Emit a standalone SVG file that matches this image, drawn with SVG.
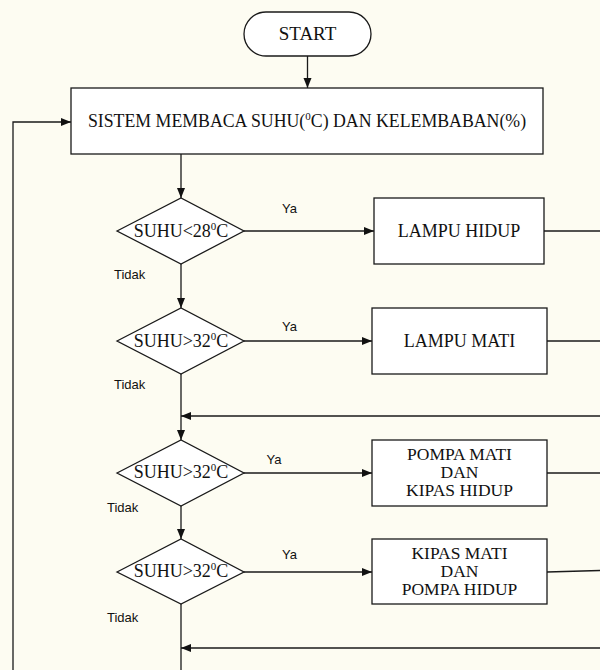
<svg xmlns="http://www.w3.org/2000/svg" width="600" height="670" viewBox="0 0 600 670">
<style>
.shape{fill:#ffffff;stroke:#1a1a1a;stroke-width:1.3}
.conn{fill:none;stroke:#1a1a1a;stroke-width:1.3}
.t{font-family:"Liberation Serif","Times New Roman",serif;font-size:18px;fill:#111;text-anchor:middle}
.tm{font-size:17.8px}
.ts{font-size:19px}
.ml{font-size:17.5px}
.lbl{font-family:"Liberation Sans",Arial,sans-serif;font-size:13px;fill:#111}
.sup{font-size:11px}
</style>
<defs>
<marker id="arr" markerUnits="userSpaceOnUse" markerWidth="10" markerHeight="10" viewBox="0 0 10 10" refX="10" refY="5" orient="auto">
<path d="M0,1 L10,5 L0,9 Z" fill="#111"/>
</marker>
</defs>
<rect x="0" y="0" width="600" height="670" fill="#fdfcf2"/>
<g id="connectors">
<line class="conn" x1="307.5" y1="56" x2="307.5" y2="88" marker-end="url(#arr)"/>
<line class="conn" x1="181" y1="154" x2="181" y2="198" marker-end="url(#arr)"/>
<line class="conn" x1="244" y1="231" x2="374" y2="231" marker-end="url(#arr)"/>
<line class="conn" x1="544" y1="231" x2="600" y2="231"/>
<line class="conn" x1="181" y1="264" x2="181" y2="308" marker-end="url(#arr)"/>
<line class="conn" x1="244" y1="341" x2="372" y2="341" marker-end="url(#arr)"/>
<line class="conn" x1="547" y1="341" x2="600" y2="341"/>
<line class="conn" x1="181" y1="374" x2="181" y2="440" marker-end="url(#arr)"/>
<line class="conn" x1="600" y1="416" x2="181" y2="416" marker-end="url(#arr)"/>
<line class="conn" x1="244" y1="473" x2="372" y2="473" marker-end="url(#arr)"/>
<line class="conn" x1="547" y1="473" x2="600" y2="473"/>
<line class="conn" x1="181" y1="506" x2="181" y2="539" marker-end="url(#arr)"/>
<line class="conn" x1="244" y1="572" x2="372" y2="572" marker-end="url(#arr)"/>
<line class="conn" x1="547" y1="572" x2="600" y2="570.5"/>
<line class="conn" x1="181" y1="604" x2="181" y2="670"/>
<line class="conn" x1="600" y1="648" x2="181" y2="648" marker-end="url(#arr)"/>
<polyline class="conn" points="13,670 13,122 71,122" marker-end="url(#arr)"/>
<text class="lbl" x="282" y="213">Ya</text>
<text class="lbl" x="114" y="279">Tidak</text>
<text class="lbl" x="282" y="331">Ya</text>
<text class="lbl" x="114" y="389">Tidak</text>
<text class="lbl" x="266.5" y="463.5">Ya</text>
<text class="lbl" x="107" y="512">Tidak</text>
<text class="lbl" x="282" y="559">Ya</text>
<text class="lbl" x="107" y="622">Tidak</text>
</g>
<g id="start">
<rect class="shape" x="244" y="12" width="127" height="44" rx="22" ry="22"/>
<text class="t ts" x="307.5" y="40">START</text>
</g>
<g id="baca">
<rect class="shape" x="71" y="88" width="472" height="66"/>
<text class="t tm" x="307" y="127">SISTEM MEMBACA SUHU(<tspan class="sup" dy="-7">0</tspan><tspan dy="7">C) DAN KELEMBABAN(%)</tspan></text>
</g>
<g id="cek1">
<polygon class="shape" points="117,231 181,198 244,231 181,264"/>
<text class="t" x="181" y="236.5">SUHU&lt;28<tspan class="sup" dy="-7">0</tspan><tspan dy="7">C</tspan></text>
</g>
<g id="lampu-hidup">
<rect class="shape" x="374" y="198" width="170" height="66"/>
<text class="t" x="459" y="236.5">LAMPU HIDUP</text>
</g>
<g id="cek2">
<polygon class="shape" points="117,341 181,308 244,341 181,374"/>
<text class="t" x="181" y="346.5">SUHU&gt;32<tspan class="sup" dy="-7">0</tspan><tspan dy="7">C</tspan></text>
</g>
<g id="lampu-mati">
<rect class="shape" x="372" y="308" width="175" height="66"/>
<text class="t" x="459.5" y="346.5">LAMPU MATI</text>
</g>
<g id="cek3">
<polygon class="shape" points="117,473 181,440 244,473 181,506"/>
<text class="t" x="181" y="478">SUHU&gt;32<tspan class="sup" dy="-7">0</tspan><tspan dy="7">C</tspan></text>
</g>
<g id="pompa-mati">
<rect class="shape" x="372" y="440" width="175" height="66"/>
<text class="t ml" x="459.5" y="459.5">POMPA MATI</text>
<text class="t ml" x="459.5" y="477.5">DAN</text>
<text class="t ml" x="459.5" y="495.5">KIPAS HIDUP</text>
</g>
<g id="cek4">
<polygon class="shape" points="117,572 181,539 244,572 181,604"/>
<text class="t" x="181" y="577">SUHU&gt;32<tspan class="sup" dy="-7">0</tspan><tspan dy="7">C</tspan></text>
</g>
<g id="kipas-mati">
<rect class="shape" x="372" y="539" width="175" height="65"/>
<text class="t ml" x="459.5" y="558.5">KIPAS MATI</text>
<text class="t ml" x="459.5" y="576.5">DAN</text>
<text class="t ml" x="459.5" y="594.5">POMPA HIDUP</text>
</g>
</svg>
